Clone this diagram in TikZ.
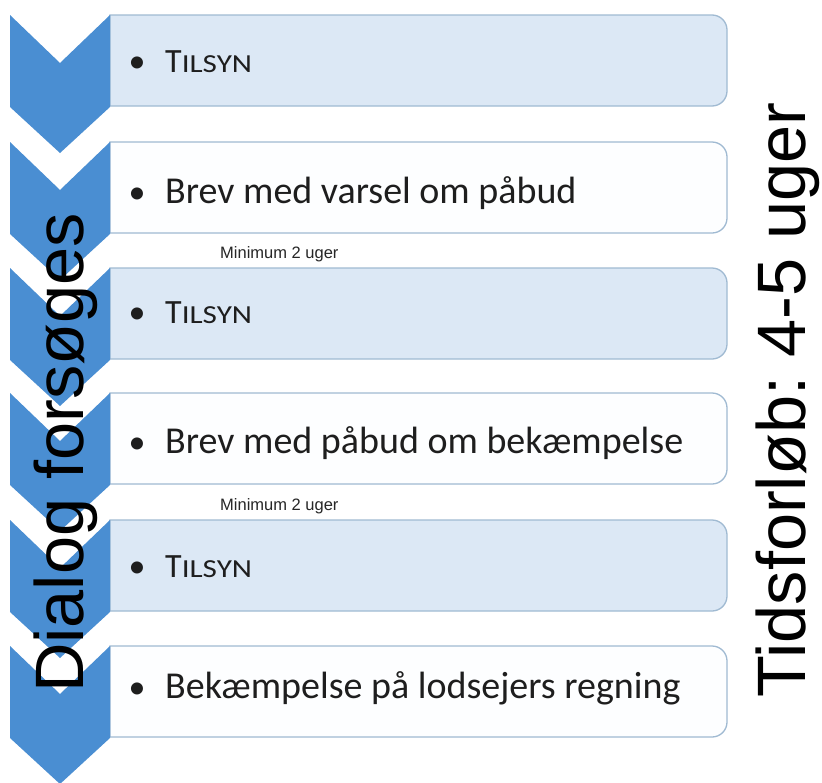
\documentclass[tikz,border=0pt]{standalone}
\usepackage{fontspec}
\usepackage{graphicx}
\setmainfont{Liberation Sans}
\newfontfamily\calib{Carlito}
\frenchspacing
\definecolor{chev}{RGB}{74,142,210}
\definecolor{boxblue}{RGB}{220,232,245}
\definecolor{boxwhite}{RGB}{253,254,255}
\definecolor{boxline}{RGB}{160,186,210}
\definecolor{txt}{RGB}{30,30,30}
\tikzset{
  listbox/.style={draw=boxline, line width=1.3pt},
  chevshape/.style={fill=chev},
  itemtext/.style={anchor=base west, inner sep=0pt, text=txt, font=\calib\fontsize{38}{38}\selectfont},
  bulletmark/.style={anchor=base, inner sep=0pt, text=txt, font=\calib\fontsize{34}{34}\selectfont},
  bigtext/.style={rotate=90, anchor=base west, inner sep=0pt, font=\fontsize{68.5}{68.5}\selectfont},
  smalltext/.style={anchor=base west, inner sep=0pt, text=black!85, font=\fontsize{16.5}{16.5}\selectfont}
}
\newcommand\mybox[2]{%
  \path[listbox, fill=#2] (110,-#1) -- (712,-#1) arc[start angle=90,end angle=0,radius=15]
    -- (727,-#1-76) arc[start angle=0,end angle=-90,radius=15] -- (110,-#1-91) -- cycle;}
\newcommand\mychev[1]{%
  \path[chevshape] (10,-#1) -- (60,-#1-48) -- (110,-#1) -- (110,-#1-92) -- (60,-#1-138) -- (10,-#1-92) -- cycle;}
\newcommand\tilsyn{{\fontsize{34}{34}\selectfont T}{\fontsize{26}{26}\selectfont\scalebox{1.2}[1]{ILSYN}}}
\begin{document}
\begin{tikzpicture}[x=1pt,y=1pt]
\useasboundingbox (0,0) rectangle (822,-782);
\fill[white] (0,0) rectangle (822,-782);
% boxes
\mybox{15}{boxblue}
\mybox{142}{boxwhite}
\mybox{268}{boxblue}
\mybox{393}{boxwhite}
\mybox{520}{boxblue}
\mybox{646}{boxwhite}
% chevrons
\mychev{15}
\mychev{142}
\mychev{268}
\mychev{393}
\mychev{520}
\mychev{646}
% bullets
\node[bulletmark] (b1) at (137,-72) {•};
\node[bulletmark] (b2) at (137,-203) {•};
\node[bulletmark] (b3) at (137,-323) {•};
\node[bulletmark] (b4) at (137,-453) {•};
\node[bulletmark] (b5) at (137,-577) {•};
\node[bulletmark] (b6) at (137,-698) {•};
% item texts
\node[itemtext] (t1) at (165,-72) {\tilsyn};
\node[itemtext] (t2) at (165,-203) {Brev med varsel om påbud};
\node[itemtext] (t3) at (165,-323) {\tilsyn};
\node[itemtext] (t4) at (165,-453) {Brev med påbud om bekæmpelse};
\node[itemtext] (t5) at (165,-577) {\tilsyn};
\node[itemtext] (t6) at (165,-698) {Bekæmpelse på lodsejers regning};
% small notes
\node[smalltext] (m1) at (220,-258) {Minimum 2 uger};
\node[smalltext] (m2) at (220,-510) {Minimum 2 uger};
% big rotated labels
\node[bigtext] (dialog) at (83,-693) {Dialog forsøges};
\node[bigtext] (tid) at (805,-698) {Tidsforløb: 4-5 uger};
\end{tikzpicture}
\end{document}
